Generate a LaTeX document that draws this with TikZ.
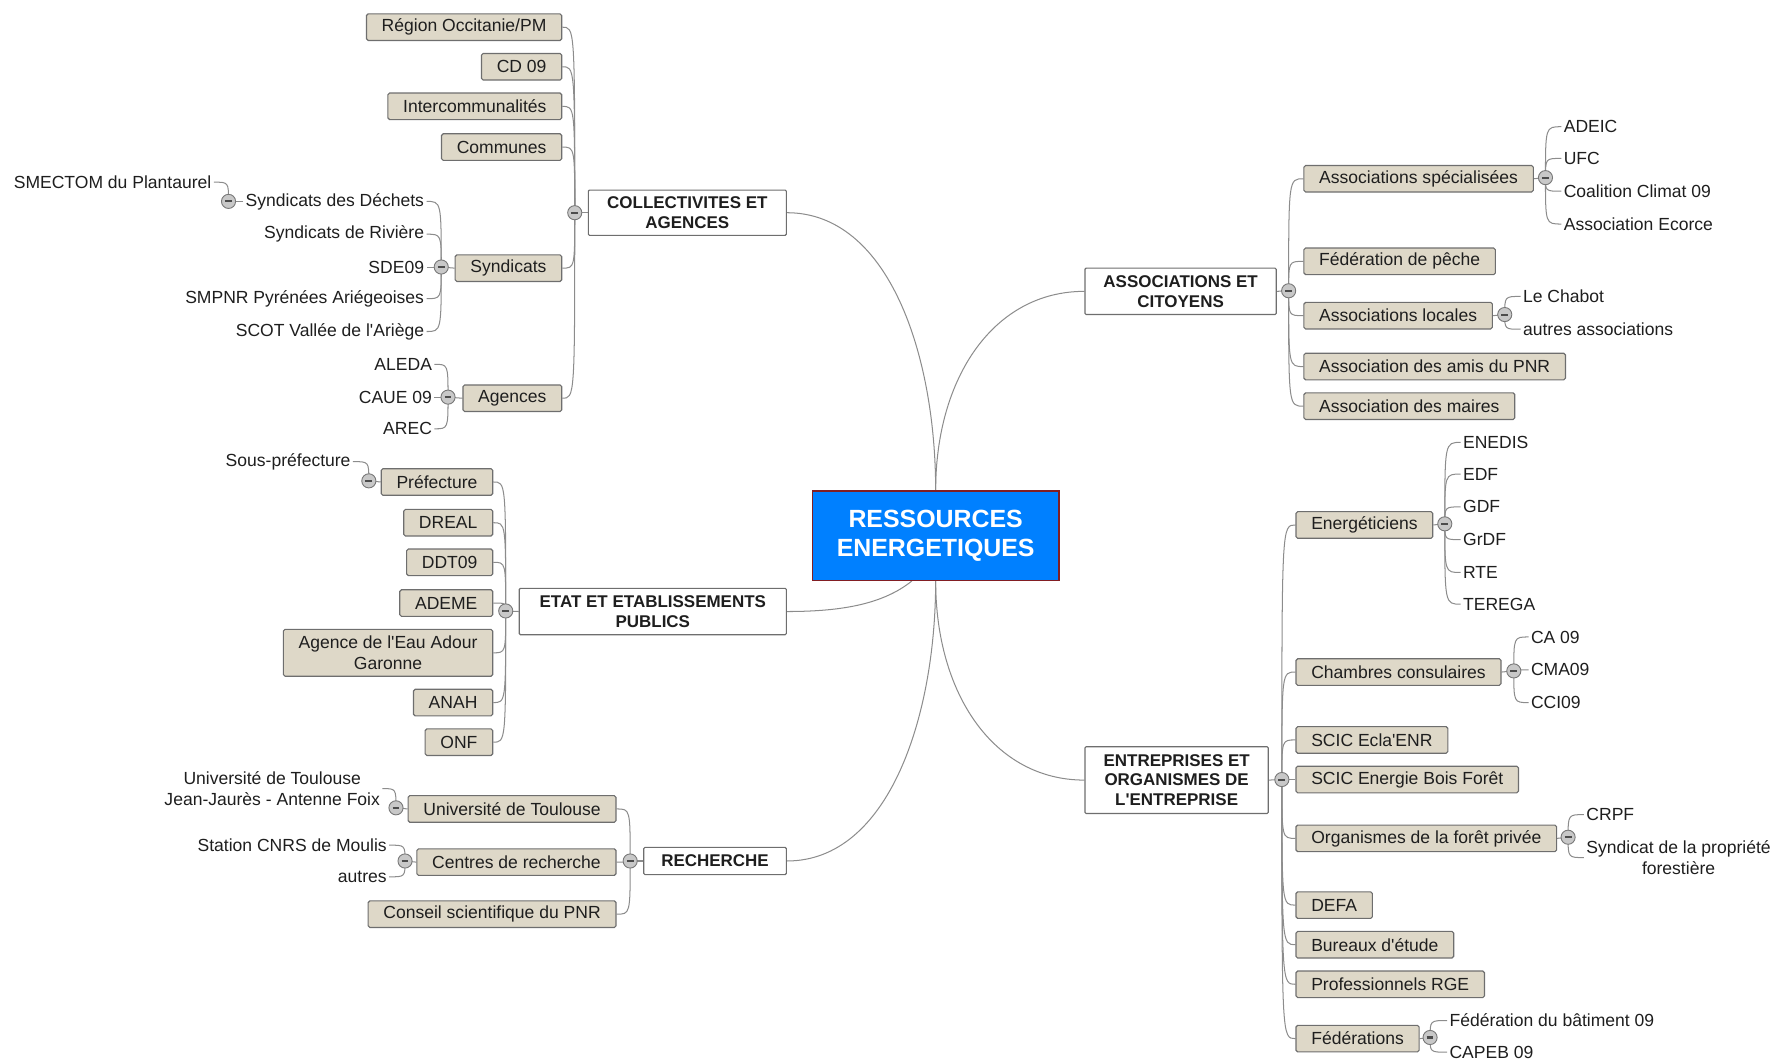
\documentclass[tikz,border=0pt]{standalone}
\usepackage{fontspec}
\setmainfont{Liberation Sans}
\pgfdeclarelayer{back}
\pgfsetlayers{back,main}
\definecolor{rootblue}{RGB}{0,128,255}
\definecolor{rootred}{RGB}{130,30,35}
\definecolor{boxfill}{RGB}{222,216,200}
\definecolor{boxline}{RGB}{110,110,110}
\definecolor{linkgray}{RGB}{140,140,140}
\definecolor{foldfill}{RGB}{200,200,200}
\definecolor{foldline}{RGB}{120,120,120}
\definecolor{textdark}{RGB}{30,30,30}

\begin{document}
\begin{tikzpicture}[x=1pt,y=-1pt,
    every node/.style={font=\fontsize{15.5}{18}\selectfont, text=textdark},
    root/.style={draw=rootred, fill=rootblue, line width=1pt, minimum width=218pt, minimum height=79pt,
        align=center, text=white, font=\bfseries\fontsize{22}{25}\selectfont},
    topic/.style={draw=boxline, fill=white, line width=1pt, rounded corners=1pt, align=center,
        inner sep=0pt, font=\bfseries\fontsize{15}{17.5}\selectfont},
    sub/.style={draw=boxline, fill=boxfill, line width=1pt, rounded corners=1.5pt, inner xsep=13.5pt,
        inner ysep=0pt, minimum height=23.5pt, align=center},
    leaf/.style={inner sep=2pt},
    fold/.style={circle, draw=foldline, fill=foldfill, line width=0.8pt, minimum size=12.5pt, inner sep=0pt,
        path picture={\draw[line width=1.8pt, black!70] ([xshift=-3pt]path picture bounding box.center)
            -- ([xshift=3pt]path picture bounding box.center);}},
    link/.style={draw=linkgray, line width=0.9pt},
    branch/.style={link, to path={.. controls (\tikztostart |- \tikztotarget) .. (\tikztotarget)}}
]
\useasboundingbox (0,0) rectangle (1568,938);

% Nodes
\node[root] (root) at (827,473.5) {RESSOURCES\\ENERGETIQUES};

% collectivites
\node[topic, minimum width=175pt, minimum height=40pt] (coll) at (607.5,188) {COLLECTIVITES ET\\AGENCES};
\node[fold] (collf) at (508,188) {};
\node[sub, anchor=east] (reg) at (497,24) {Région Occitanie/PM};
\node[sub, anchor=east] (cd) at (497,59) {CD 09};
\node[sub, anchor=east] (inter) at (497,94) {Intercommunalités};
\node[sub, anchor=east] (comm) at (497,130) {Communes};
\node[sub, anchor=east] (synd) at (497,237) {Syndicats};
\node[sub, anchor=east] (agen) at (497,352) {Agences};
\node[fold] (syndf) at (390,236) {};
\node[leaf, anchor=east] (dech) at (377,178) {Syndicats des Déchets};
\node[leaf, anchor=east] (riv) at (377,207) {Syndicats de Rivière};
\node[leaf, anchor=east] (sde) at (377,236) {SDE09};
\node[leaf, anchor=east] (smpnr) at (377,264) {SMPNR Pyrénées Ariégeoises};
\node[leaf, anchor=east] (scot) at (377,293) {SCOT Vallée de l\textquotesingle Ariège};
\node[fold] (dechf) at (202,178) {};
\node[leaf, anchor=east] (smectom) at (189,161) {SMECTOM du Plantaurel};
\node[fold] (agenf) at (396,351) {};
\node[leaf, anchor=east] (aleda) at (384,322) {ALEDA};
\node[leaf, anchor=east] (caue) at (384,351) {CAUE 09};
\node[leaf, anchor=east] (arec) at (384,379) {AREC};

% etat
\node[topic, minimum width=236pt, minimum height=41pt] (etat) at (577,540.5) {ETAT ET ETABLISSEMENTS\\PUBLICS};
\node[fold] (etatf) at (447,540) {};
\node[sub, anchor=east] (pref) at (436,426) {Préfecture};
\node[sub, anchor=east] (dreal) at (436,462) {DREAL};
\node[sub, anchor=east] (ddt) at (436,497) {DDT09};
\node[sub, anchor=east] (ademe) at (436,533) {ADEME};
\node[sub, anchor=east, inner ysep=6pt] (eau) at (436,577) {Agence de l\textquotesingle Eau Adour\\Garonne};
\node[sub, anchor=east] (anah) at (436,621) {ANAH};
\node[sub, anchor=east] (onf) at (436,656) {ONF};
\node[fold] (preff) at (326,425) {};
\node[leaf, anchor=east] (souspref) at (312,408) {Sous-préfecture};

% recherche
\node[topic, minimum width=126pt, minimum height=24pt] (rech) at (632,761) {RECHERCHE};
\node[fold] (rechf) at (557,761) {};
\node[sub, anchor=east] (univ) at (545,715) {Université de Toulouse};
\node[sub, anchor=east] (centres) at (545,762) {Centres de recherche};
\node[sub, anchor=east] (conseil) at (545,808) {Conseil scientifique du PNR};
\node[fold] (univf) at (350,714) {};
\node[leaf, anchor=east, align=center] (utjj) at (338,697) {Université de Toulouse\\Jean-Jaurès - Antenne Foix};
\node[fold] (centf) at (358,761) {};
\node[leaf, anchor=east] (cnrs) at (344,747) {Station CNRS de Moulis};
\node[leaf, anchor=east] (autres) at (344,775) {autres};

% associations
\node[topic, minimum width=169pt, minimum height=41pt] (assoc) at (1043.5,257.5) {ASSOCIATIONS ET\\CITOYENS};
\node[fold] (assocf) at (1139,257) {};
\node[sub, anchor=west] (spec) at (1152,158) {Associations spécialisées};
\node[sub, anchor=west] (peche) at (1152,231) {Fédération de pêche};
\node[sub, anchor=west] (locales) at (1152,279) {Associations locales};
\node[sub, anchor=west] (amis) at (1152,324) {Association des amis du PNR};
\node[sub, anchor=west] (maires) at (1152,359) {Association des maires};
\node[fold] (specf) at (1366,157) {};
\node[leaf, anchor=west] (adeic) at (1380,112) {ADEIC};
\node[leaf, anchor=west] (ufc) at (1380,140) {UFC};
\node[leaf, anchor=west] (coal) at (1380,169) {Coalition Climat 09};
\node[leaf, anchor=west] (ecorce) at (1380,198) {Association Ecorce};
\node[fold] (locf) at (1330,278) {};
\node[leaf, anchor=west] (chabot) at (1344,262) {Le Chabot};
\node[leaf, anchor=west] (autass) at (1344,291) {autres associations};

% entreprises
\node[topic, minimum width=162pt, minimum height=59pt] (entr) at (1040,689.5) {ENTREPRISES ET\\ORGANISMES DE\\L\textquotesingle ENTREPRISE};
\node[fold] (entrf) at (1133,689) {};
\node[sub, anchor=west] (energ) at (1145,464) {Energéticiens};
\node[sub, anchor=west] (chamb) at (1145,594) {Chambres consulaires};
\node[sub, anchor=west] (ecla) at (1145,654) {SCIC Ecla\textquotesingle ENR};
\node[sub, anchor=west] (ebf) at (1145,689) {SCIC Energie Bois Forêt};
\node[sub, anchor=west] (orga) at (1145,741) {Organismes de la forêt privée};
\node[sub, anchor=west] (defa) at (1145,800) {DEFA};
\node[sub, anchor=west] (bur) at (1145,835) {Bureaux d\textquotesingle étude};
\node[sub, anchor=west] (rge) at (1145,870) {Professionnels RGE};
\node[sub, anchor=west] (fed) at (1145,918) {Fédérations};
\node[fold] (energf) at (1277,463) {};
\node[leaf, anchor=west] (enedis) at (1291,391) {ENEDIS};
\node[leaf, anchor=west] (edf) at (1291,419) {EDF};
\node[leaf, anchor=west] (gdf) at (1291,448) {GDF};
\node[leaf, anchor=west] (grdf) at (1291,477) {GrDF};
\node[leaf, anchor=west] (rte) at (1291,506) {RTE};
\node[leaf, anchor=west] (terega) at (1291,534) {TEREGA};
\node[fold] (chambf) at (1338,593) {};
\node[leaf, anchor=west] (ca) at (1351,563) {CA 09};
\node[leaf, anchor=west] (cma) at (1351,592) {CMA09};
\node[leaf, anchor=west] (cci) at (1351,621) {CCI09};
\node[fold] (orgaf) at (1386,740) {};
\node[leaf, anchor=west] (crpf) at (1400,720) {CRPF};
\node[leaf, anchor=west, align=center] (spf) at (1400,758) {Syndicat de la propriété\\forestière};
\node[fold] (fedf) at (1264,917) {};
\node[leaf, anchor=west] (fbat) at (1279,902) {Fédération du bâtiment 09};
\node[leaf, anchor=west] (capeb) at (1279,930) {CAPEB 09};

% Edges
\begin{pgfonlayer}{back}
\draw[link] (root.north) .. controls +(0,-120) and +(90,0) .. (coll.east);
\draw[link] (root.north) .. controls +(0,-100) and +(-80,0) .. (assoc.west);
\draw[link] ([xshift=-21pt]root.south) .. controls +(-25,20) and +(50,0) .. (etat.east);
\draw[link] (root.south) .. controls +(0,120) and +(90,0) .. (rech.east);
\draw[link] (root.south) .. controls +(0,100) and +(-80,0) .. (entr.west);

\draw[link] (coll.west) -- (collf.center);
\draw[link] (etat.west) -- (etatf.center);
\draw[link] (rech.west) -- (rechf.center);
\draw[link] (assoc.east) -- (assocf.center);
\draw[link] (entr.east) -- (entrf.center);
\draw[link] (synd.west) -- (syndf.center);
\draw[link] (dech.west) -- (dechf.center);
\draw[link] (agen.west) -- (agenf.center);
\draw[link] (pref.west) -- (preff.center);
\draw[link] (univ.west) -- (univf.center);
\draw[link] (centres.west) -- (centf.center);
\draw[link] (spec.east) -- (specf.center);
\draw[link] (locales.east) -- (locf.center);
\draw[link] (energ.east) -- (energf.center);
\draw[link] (chamb.east) -- (chambf.center);
\draw[link] (orga.east) -- (orgaf.center);
\draw[link] (fed.east) -- (fedf.center);

\foreach \n in {reg,cd,inter,comm,synd,agen} \draw[branch] (collf.center) to (\n.east);
\foreach \n in {dech,riv,sde,smpnr,scot} \draw[branch] (syndf.center) to (\n.east);
\draw[branch] (dechf.center) to (smectom.east);
\foreach \n in {aleda,caue,arec} \draw[branch] (agenf.center) to (\n.east);
\foreach \n in {pref,dreal,ddt,ademe,eau,anah,onf} \draw[branch] (etatf.center) to (\n.east);
\draw[branch] (preff.center) to (souspref.east);
\foreach \n in {univ,centres,conseil} \draw[branch] (rechf.center) to (\n.east);
\draw[branch] (univf.center) to (utjj.east);
\foreach \n in {cnrs,autres} \draw[branch] (centf.center) to (\n.east);
\foreach \n in {spec,peche,locales,amis,maires} \draw[branch] (assocf.center) to (\n.west);
\foreach \n in {adeic,ufc,coal,ecorce} \draw[branch] (specf.center) to (\n.west);
\foreach \n in {chabot,autass} \draw[branch] (locf.center) to (\n.west);
\foreach \n in {energ,chamb,ecla,ebf,orga,defa,bur,rge,fed} \draw[branch] (entrf.center) to (\n.west);
\foreach \n in {enedis,edf,gdf,grdf,rte,terega} \draw[branch] (energf.center) to (\n.west);
\foreach \n in {ca,cma,cci} \draw[branch] (chambf.center) to (\n.west);
\foreach \n in {crpf,spf} \draw[branch] (orgaf.center) to (\n.west);
\foreach \n in {fbat,capeb} \draw[branch] (fedf.center) to (\n.west);
\end{pgfonlayer}
\end{tikzpicture}
\end{document}
